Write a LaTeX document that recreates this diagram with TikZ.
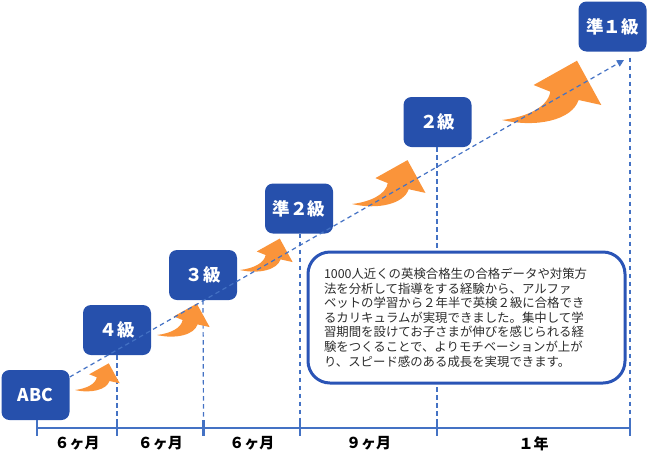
\documentclass[tikz,border=0pt]{standalone}
\usepackage{fontspec}
\setmainfont{Noto Sans CJK JP}
\usetikzlibrary{arrows.meta,calc}
\definecolor{boxblue}{RGB}{38,80,172}
\definecolor{lineblue}{RGB}{68,114,196}
\definecolor{frameblue}{RGB}{42,84,182}
\definecolor{arroworange}{RGB}{250,148,58}
\definecolor{txtgray}{RGB}{45,45,45}
\tikzset{
  hoparrow/.pic={
    \fill[arroworange] (0,0) .. controls (25,-3) and (46,-13) .. (48.3,-28.3)
      -- (31.6,-35) -- (75,-59.3) -- (99.3,-15) -- (76.6,-20)
      .. controls (70,0) and (35,8) .. cycle;
  }
}
\begin{document}
\begin{tikzpicture}[x=1pt,y=-1pt,
  levelbox/.style={fill=boxblue, rounded corners=8pt, minimum width=68pt,
    minimum height=50pt, text=white, inner sep=0pt,
    font=\fontsize{17.5}{17.5}\selectfont\bfseries},
  guide/.style={draw=lineblue, dash pattern=on 4.5pt off 3.5pt, line width=1.2pt},
  axisline/.style={draw=lineblue, line width=2.6pt},
  period/.style={font=\fontsize{15}{15}\selectfont\bfseries, text=black, inner sep=2pt},
  textbox/.style={draw=frameblue, fill=white, line width=3pt, rounded corners=22pt,
    minimum width=317pt, minimum height=131pt, text width=285pt, inner xsep=16pt,
    align=left, text=txtgray, font=\fontsize{12.4}{14.6}\selectfont}
]
\useasboundingbox (0,0) rectangle (650,464);

% axis coordinates
\coordinate (t0) at (37,428);
\coordinate (t1) at (117,428);
\coordinate (t2) at (203.5,428);
\coordinate (t3) at (300,428);
\coordinate (t4) at (437,428);
\coordinate (t5) at (630,428);
\coordinate (diagend) at (624,60);

% level boxes
\node[levelbox] (abc) at (35.5,395) {ABC};
\node[levelbox] (k4) at (117,330) {４級};
\node[levelbox] (k3) at (203,275) {３級};
\node[levelbox] (p2) at (299,208.5) {準２級};
\node[levelbox] (k2) at (437.5,122) {２級};
\node[levelbox] (p1) at (612.5,26.5) {準１級};

% vertical guides
\draw[guide] (k4.south) -- ($(t1)+(0,-8)$);
\draw[guide] (k3.south) -- ($(t2)+(0,-8)$);
\draw[guide] (p2.south -| t3) -- ($(t3)+(0,-8)$);
\draw[guide] (k2.south -| t4) -- ($(t4)+(0,-8)$);
\draw[guide] ($(p1.south -| t5)+(0,6)$) -- ($(t5)+(0,-8)$);

% text box
\node[textbox] (tb) at (466.5,317.5) {1000人近くの英検合格生の合格データや対策方\\
法を分析して指導をする経験から、アルファ\\
ベットの学習から２年半で英検２級に合格でき\\
るカリキュラムが実現できました。集中して学\\
習期間を設けてお子さまが伸びを感じられる経\\
験をつくることで、よりモチベーションが上が\\
り、スピード感のある成長を実現できます。};

% orange arrows
\pic[scale=0.45] at (75,390) {hoparrow};
\pic[scale=0.53] at (157,335) {hoparrow};
\pic[scale=0.53] at (240,270) {hoparrow};
\pic[scale=0.74] at (352,204) {hoparrow};
\pic[scale=1] at (502,120) {hoparrow};

% diagonal dashed arrow
\draw[guide, -{Triangle[width=7pt,length=7pt]}] ([yshift=18pt]abc.east) -- (diagend);

% axis
\draw[axisline] (t0) -- node[period, below=5pt] (m1) {６ヶ月}
  (t1) -- node[period, below=5pt] (m2) {６ヶ月}
  (t2) -- node[period, below=5pt] (m3) {６ヶ月}
  (t3) -- node[period, below=5pt] (m4) {９ヶ月}
  (t4) -- node[period, below=5pt] (m5) {１年} (t5);
\foreach \t in {t0,t1,t2,t3,t4,t5}{
  \draw[axisline] ($(\t)+(0,-8)$) -- ($(\t)+(0,8)$);
}
\end{tikzpicture}
\end{document}
